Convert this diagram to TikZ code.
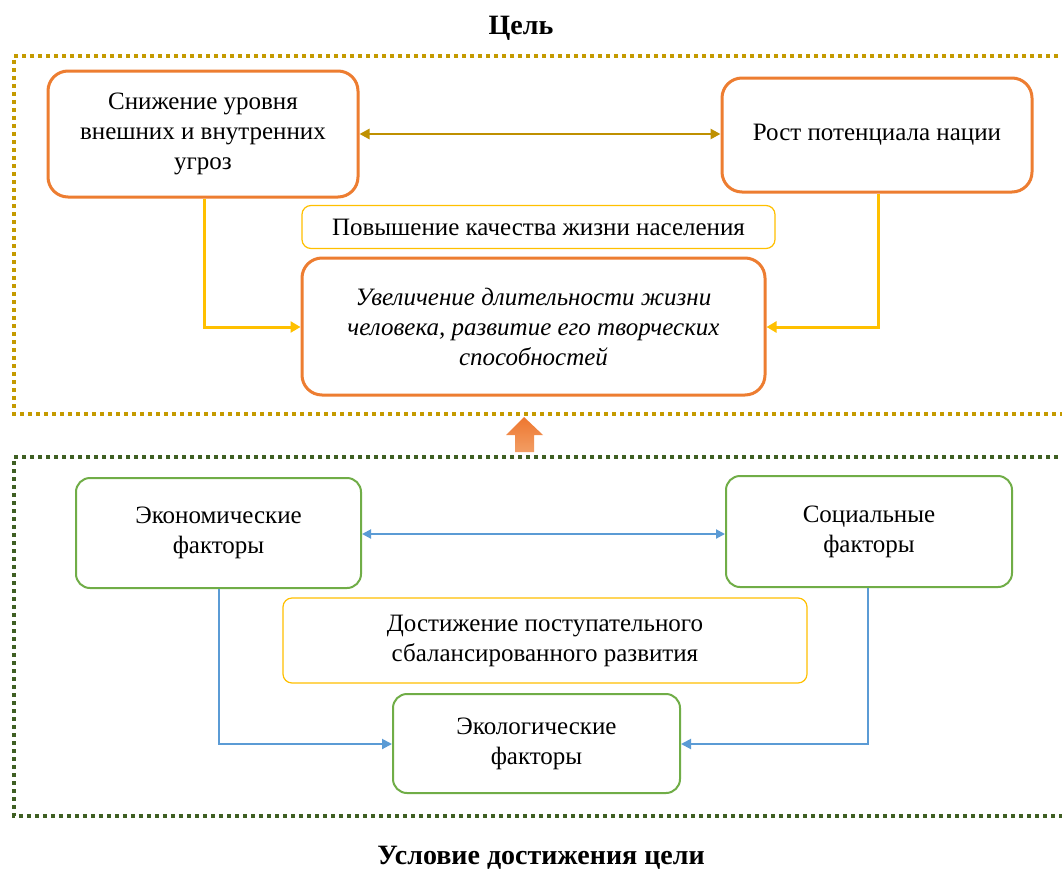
\documentclass[tikz,border=0pt]{standalone}
\usepackage{fontspec}
\setmainfont{Liberation Serif}
\usetikzlibrary{arrows.meta,calc}
\definecolor{orbox}{HTML}{ED7D31}
\definecolor{goldln}{HTML}{BF9000}
\definecolor{yelln}{HTML}{FFC000}
\definecolor{grbox}{HTML}{70AD47}
\definecolor{blueln}{HTML}{5B9BD5}
\definecolor{dkgreen}{HTML}{3F5F23}
\definecolor{dotgold}{HTML}{C49A00}
\begin{document}
\begin{tikzpicture}[x=1pt,y=-1pt,
  every node/.style={font=\fontsize{25}{30}\selectfont, align=center, inner sep=0pt},
  obox/.style={draw=orbox, line width=3pt, rounded corners=20pt},
  gbox/.style={draw=grbox, line width=2pt, rounded corners=14pt},
  ybox/.style={draw=yelln, line width=1.2pt, rounded corners=9pt},
  dotframe/.style={line width=3.5pt, dash pattern=on 3.8pt off 4.2pt},
  yconn/.style={draw=yelln, line width=3pt, -{Triangle[length=10pt,width=11pt]}},
  bconn/.style={draw=blueln, line width=2pt, -{Triangle[length=10pt,width=10pt]}},
  gdbl/.style={draw=goldln, line width=2.5pt, {Triangle[length=10pt,width=10pt]}-{Triangle[length=10pt,width=10pt]}},
  bdbl/.style={draw=blueln, line width=2pt, {Triangle[length=9pt,width=9pt]}-{Triangle[length=9pt,width=9pt]}},
  title/.style={font=\fontsize{28}{32}\selectfont\bfseries}
]
\useasboundingbox (0,0) rectangle (1062,870);
\fill[white] (0,0) rectangle (1062,870);

% frames
\draw[dotframe, draw=dotgold] (1066,56) -- (14,56) -- (14,414) -- (1066,414);
\draw[dotframe, draw=dkgreen] (1066,457) -- (14,457) -- (14,816) -- (1066,816);

% titles
\node[title] (t1) at (521,28) {Цель};
\node[title] (t2) at (541,858) {Условие достижения цели};

% top boxes
\node[obox, minimum width=310pt, minimum height=126pt] (b1) at (203,134) {\raisebox{-3pt}{}Снижение уровня\\внешних и внутренних\\угроз};
\node[obox, minimum width=310pt, minimum height=114pt] (b2) at (877,135) {Рост потенциала нации};
\node[ybox, minimum width=473pt, minimum height=43pt] (q) at (538.5,227) {Повышение качества жизни населения};
\node[obox, minimum width=463pt, minimum height=137pt] (c) at (533.5,326.5) {\itshape Увеличение длительности жизни\\\itshape человека, развитие его творческих\\\itshape способностей};

\draw[gdbl] (b1.east |- 0,134) -- (b2.west |- 0,134);
\coordinate (y1) at (204,327);
\coordinate (y2) at (878,327);
\draw[yconn] (b1.south -| y1) -- (y1) -- (c.west |- y1);
\draw[yconn] (b2.south -| y2) -- (y2) -- (c.east |- y2);

% up arrow
\shade[top color=orbox!95!red, bottom color=orbox!75!white]
  (524,417) -- (543,435) -- (534,435) -- (534,452) -- (515,452) -- (515,435) -- (506,435) -- cycle;

% bottom boxes
\node[gbox, minimum width=285pt, minimum height=110pt] (e) at (218.5,533) {Экономические\\факторы};
\node[gbox, minimum width=286pt, minimum height=111pt] (s) at (869,531.5) {Социальные\\факторы};
\node[ybox, minimum width=524pt, minimum height=85pt] (d) at (545,640.5) {Достижение поступательного\\сбалансированного развития};
\node[gbox, minimum width=287pt, minimum height=99pt] (k) at (536.5,743.5) {Экологические\\факторы};

\draw[bdbl] (e.east |- 0,534) -- (s.west |- 0,534);
\coordinate (z1) at (219,744);
\coordinate (z2) at (868,744);
\draw[bconn] (e.south -| z1) -- (z1) -- (k.west |- z1);
\draw[bconn] (s.south -| z2) -- (z2) -- (k.east |- z2);
\end{tikzpicture}
\end{document}
